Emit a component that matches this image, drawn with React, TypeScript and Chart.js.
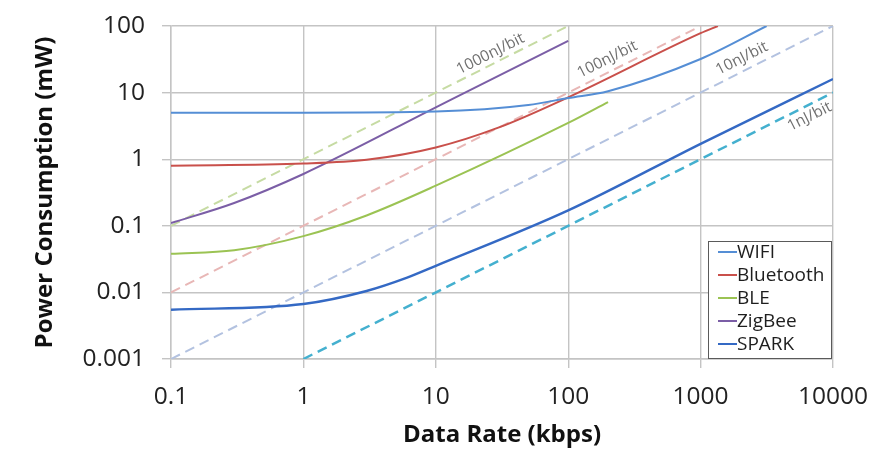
import React, { useEffect, useRef } from "react";
import { Chart, registerables } from "chart.js";

Chart.register(...registerables);

// ---- data ----
const xTickValues = [0.1, 1, 10, 100, 1000, 10000];
const xTickLabels = ["0.1", "1", "10", "100", "1000", "10000"];
const yTickValues = [0.001, 0.01, 0.1, 1, 10, 100];
const yTickLabels = ["0.001", "0.01", "0.1", "1", "10", "100"];

const wifiX = [0.1, 1, 10, 50, 100, 200, 1000, 3150];
const wifiY = [5, 5, 5.2, 6.5, 8.3, 10.5, 32, 100];

const bluetoothX = [0.1, 1, 3, 10, 30, 100, 1000, 1350];
const bluetoothY = [0.8, 0.86, 0.98, 1.5, 3, 8.5, 78, 100];

const bleX = [0.1, 0.3, 1, 3, 10, 100, 200];
const bleY = [0.038, 0.043, 0.07, 0.143, 0.4, 3.5, 7.2];

const zigbeeX = [0.1, 0.3, 1, 10, 100];
const zigbeeY = [0.11, 0.22, 0.6, 6, 60];

const sparkX = [0.1, 1, 3, 6, 10, 100, 1000, 10000];
const sparkY = [0.0055, 0.0067, 0.0105, 0.0165, 0.025, 0.17, 1.7, 16];

// constant energy-per-bit reference lines (end points)
const nj1000X = [0.1, 100];
const nj1000Y = [0.1, 100];
const nj100X = [0.1, 1000];
const nj100Y = [0.01, 100];
const nj10X = [0.1, 10000];
const nj10Y = [0.001, 100];
const nj1X = [1, 10000];
const nj1Y = [0.001, 10];

const seriesNames = ["WIFI", "Bluetooth", "BLE", "ZigBee", "SPARK"];
const energyNames = ["1000nJ/bit", "100nJ/bit", "10nJ/bit", "1nJ/bit"];

const pts = (xs: number[], ys: number[]) => xs.map((x, i) => ({ x, y: ys[i] }));

// ---- styling ----
const FONT = "'Open Sans', 'Liberation Sans', sans-serif";
const GRID = "#c4c4c4";
const colors = {
  wifi: "#558ed5",
  bluetooth: "#c9504b",
  ble: "#9bc353",
  zigbee: "#7b5ea6",
  spark: "#3469c4",
  nj1000: "#c6dba3",
  nj100: "#e8b7b6",
  nj10: "#b3c2e0",
  nj1: "#44b0cf",
};

// where along each reference line its label sits (data x), and px offset normal to line
const energyLabelAnchors = [
  { x: 28, off: -10 },
  { x: 217, off: -12 },
  { x: 2250, off: -12 },
  { x: 6100, off: 11 },
];

const energyLabelPlugin = {
  id: "energyLabels",
  afterDatasetsDraw(chart: any) {
    const { ctx, scales } = chart;
    const xs = scales.x;
    const ys = scales.y;
    const ds = chart.data.datasets.filter((d: any) => d.energy !== undefined);
    ctx.save();
    ctx.font = `15.5px ${FONT}`;
    ctx.fillStyle = "#707070";
    ctx.textAlign = "center";
    ctx.textBaseline = "middle";
    ds.forEach((d: any, i: number) => {
      const a = energyLabelAnchors[i];
      const p0 = d.data[0];
      const p1 = d.data[d.data.length - 1];
      const x0 = xs.getPixelForValue(p0.x), y0 = ys.getPixelForValue(p0.y);
      const x1 = xs.getPixelForValue(p1.x), y1 = ys.getPixelForValue(p1.y);
      const ang = Math.atan2(y1 - y0, x1 - x0);
      const ly = (d.energy * a.x) / 1000;
      const px = xs.getPixelForValue(a.x);
      const py = ys.getPixelForValue(ly);
      const nx = Math.sin(ang) * -a.off;
      const ny = Math.cos(ang) * a.off;
      ctx.save();
      ctx.translate(px + nx, py + ny);
      ctx.rotate(ang);
      ctx.fillText(energyNames[i], 0, 0);
      ctx.restore();
    });
    ctx.restore();
  },
};

const legendPlugin = {
  id: "boxLegend",
  afterDraw(chart: any) {
    const { ctx, chartArea } = chart;
    const w = 123;
    const h = 117;
    const left = chartArea.right - w - 2;
    const top = chartArea.bottom - h - 1;
    ctx.save();
    ctx.fillStyle = "#ffffff";
    ctx.fillRect(left, top, w, h);
    ctx.strokeStyle = "#5a5a5a";
    ctx.lineWidth = 1;
    ctx.strokeRect(left + 0.5, top + 0.5, w, h);
    ctx.font = `19px ${FONT}`;
    ctx.textBaseline = "middle";
    ctx.textAlign = "left";
    const items = chart.data.datasets.filter((d: any) => d.energy === undefined);
    items.forEach((d: any, i: number) => {
      const cy = top + 11 + i * 23;
      ctx.strokeStyle = d.borderColor;
      ctx.lineWidth = 2;
      ctx.beginPath();
      ctx.moveTo(left + 10, cy);
      ctx.lineTo(left + 29, cy);
      ctx.stroke();
      ctx.fillStyle = "#1e1e1e";
      ctx.fillText(d.label, left + 29, cy + 1);
    });
    ctx.restore();
  },
};

export default function App() {
  const ref = useRef<HTMLCanvasElement | null>(null);

  useEffect(() => {
    if (!ref.current) return;
    const solid = (label: string, data: any[], color: string, width = 2) => ({
      label,
      data,
      borderColor: color,
      backgroundColor: color,
      borderWidth: width,
      pointRadius: 0,
      tension: 0.35,
      cubicInterpolationMode: "monotone" as const,
      fill: false,
      order: 1,
    });
    const dashed = (label: string, energy: number, data: any[], color: string, width = 2) => ({
      label,
      energy,
      data,
      borderColor: color,
      backgroundColor: color,
      borderWidth: width,
      borderDash: [10, 6],
      pointRadius: 0,
      tension: 0,
      fill: false,
      order: 2,
    });

    const chart = new Chart(ref.current, {
      type: "line",
      data: {
        datasets: [
          solid(seriesNames[0], pts(wifiX, wifiY), colors.wifi),
          solid(seriesNames[1], pts(bluetoothX, bluetoothY), colors.bluetooth),
          solid(seriesNames[2], pts(bleX, bleY), colors.ble),
          solid(seriesNames[3], pts(zigbeeX, zigbeeY), colors.zigbee),
          solid(seriesNames[4], pts(sparkX, sparkY), colors.spark, 2.4),
          dashed(energyNames[0], 1000, pts(nj1000X, nj1000Y), colors.nj1000),
          dashed(energyNames[1], 100, pts(nj100X, nj100Y), colors.nj100),
          dashed(energyNames[2], 10, pts(nj10X, nj10Y), colors.nj10),
          dashed(energyNames[3], 1, pts(nj1X, nj1Y), colors.nj1, 2.5),
        ] as any,
      },
      options: {
        animation: false,
        responsive: true,
        maintainAspectRatio: false,
        layout: { padding: { left: 0, right: 55, top: 26, bottom: 0 } },
        plugins: {
          legend: { display: false },
          tooltip: { enabled: false },
        },
        scales: {
          x: {
            type: "logarithmic",
            min: 0.1,
            max: 10000,
            afterBuildTicks: (s: any) => {
              s.ticks = xTickValues.map((v) => ({ value: v }));
            },
            afterFit: (s: any) => {
              s.height = 104;
              s.paddingLeft = 0;
              s.paddingRight = 0;
            },
            ticks: {
              autoSkip: false,
              maxRotation: 0,
              padding: 14,
              color: "#222222",
              font: { family: FONT, size: 24.5 },
              callback: (_v: any, i: number) => xTickLabels[i],
            },
            grid: { color: GRID, lineWidth: 1.4, tickLength: 9, tickColor: GRID },
            border: { color: GRID, width: 1.4 },
            title: {
              display: true,
              text: "Data Rate (kbps)",
              color: "#111111",
              font: { family: FONT, size: 24, weight: "bold" },
              padding: { top: 0, bottom: 13.6 },
            },
          },
          y: {
            type: "logarithmic",
            min: 0.001,
            max: 100,
            afterBuildTicks: (s: any) => {
              s.ticks = yTickValues.map((v) => ({ value: v }));
            },
            afterFit: (s: any) => {
              s.width = 171;
              s.paddingTop = 0;
              s.paddingBottom = 0;
            },
            ticks: {
              autoSkip: false,
              padding: 17,
              color: "#222222",
              font: { family: FONT, size: 24.5 },
              callback: (_v: any, i: number) => yTickLabels[i],
            },
            grid: { color: GRID, lineWidth: 1.4, tickLength: 9, tickColor: GRID },
            border: { color: GRID, width: 1.4 },
            title: {
              display: true,
              text: "Power Consumption (mW)",
              color: "#111111",
              font: { family: FONT, size: 24, weight: "bold" },
              padding: { top: 30.6, bottom: 0 },
            },
          },
        },
      } as any,
      plugins: [energyLabelPlugin, legendPlugin],
    });
    return () => chart.destroy();
  }, []);

  return (
    <div style={{ position: "absolute", left: 0, top: 0, width: 888, height: 463, background: "#fff" }}>
      <canvas ref={ref} />
    </div>
  );
}
